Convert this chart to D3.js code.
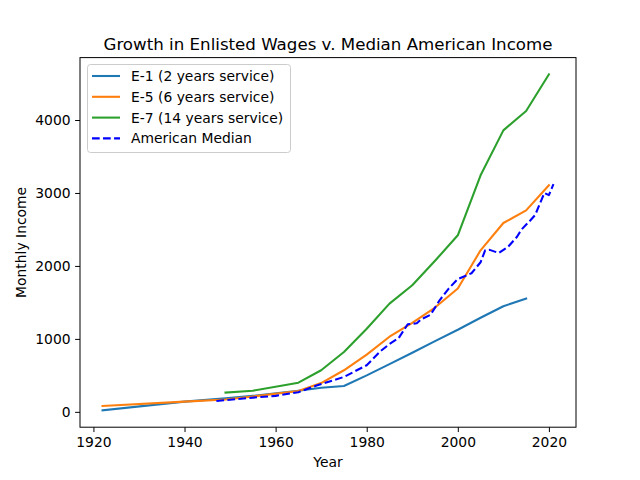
<!DOCTYPE html>
<html><head><meta charset="utf-8">
<script src="https://cdn.jsdelivr.net/npm/d3@7"></script>
<style>body{margin:0;background:#fff;} svg{display:block;font-family:"DejaVu Sans",sans-serif;}</style>
</head><body><div id="chart"></div>
<script>
const e1Years = [1922, 1940, 1949, 1955, 1965, 1970, 1975, 1980, 1985, 1990, 1995, 2000, 2005, 2010, 2015];
const e1Values = [20, 140, 185, 220, 290, 330, 355, 500, 655, 810, 970, 1125, 1290, 1447, 1553];
const e5Years = [1922, 1940, 1949, 1955, 1965, 1970, 1975, 1980, 1985, 1990, 1995, 2000, 2005, 2010, 2015, 2020];
const e5Values = [80, 140, 170, 210, 285, 395, 570, 785, 1030, 1220, 1430, 1690, 2214, 2588, 2762, 3105];
const e7Years = [1949, 1955, 1965, 1970, 1975, 1980, 1985, 1990, 1995, 2000, 2005, 2010, 2015, 2020];
const e7Values = [265, 290, 400, 570, 821, 1140, 1484, 1735, 2070, 2420, 3242, 3858, 4123, 4625];
const medYears = [1947, 1950, 1954, 1960, 1965, 1969, 1975, 1980, 1983, 1985, 1987, 1989, 1991, 1992, 1994, 1996, 1998, 2000, 2003, 2005, 2006, 2007, 2009, 2011, 2013, 2014, 2016, 2017, 2019, 2020, 2021];
const medValues = [150, 165, 190, 219, 270, 360, 479, 639, 830, 930, 1010, 1200, 1215, 1269, 1330, 1529, 1690, 1820, 1900, 2050, 2214, 2220, 2177, 2260, 2400, 2500, 2630, 2700, 3000, 2970, 3120];
const xTicks = [1920, 1940, 1960, 1980, 2000, 2020];
const yTicks = [0, 1000, 2000, 3000, 4000];
const seriesNames = ["E-1 (2 years service)", "E-5 (6 years service)", "E-7 (14 years service)", "American Median"];
const seriesColors = ["#1f77b4", "#ff7f0e", "#2ca02c", "#0000ff"];

const W = 640, H = 480;
const L = 80, R = 576, T = 57.6, B = 427.2;
const FS = "13.89px";
const svg = d3.select("#chart").append("svg").attr("width", W).attr("height", H);

const series = [
  {name: seriesNames[0], color: seriesColors[0], dash: null, pts: e1Years.map((y,i)=>[y,e1Values[i]])},
  {name: seriesNames[1], color: seriesColors[1], dash: null, pts: e5Years.map((y,i)=>[y,e5Values[i]])},
  {name: seriesNames[2], color: seriesColors[2], dash: null, pts: e7Years.map((y,i)=>[y,e7Values[i]])},
  {name: seriesNames[3], color: seriesColors[3], dash: "7.7,3.33", pts: medYears.map((y,i)=>[y,medValues[i]])}
];
const allX = series.flatMap(s=>s.pts.map(p=>p[0]));
const allY = series.flatMap(s=>s.pts.map(p=>p[1]));
const xmin = d3.min(allX), xmax = d3.max(allX), ymin = d3.min(allY), ymax = d3.max(allY);
const xpad = (xmax-xmin)*0.05, ypad = (ymax-ymin)*0.05;
const x = d3.scaleLinear().domain([xmin-xpad, xmax+xpad]).range([L, R]);
const y = d3.scaleLinear().domain([ymin-ypad, ymax+ypad]).range([B, T]);

const line = d3.line().x(d=>x(d[0])).y(d=>y(d[1]));
const g = svg.append("g");
series.forEach(s=>{
  g.append("path").datum(s.pts).attr("d", line).attr("fill","none")
   .attr("stroke", s.color).attr("stroke-width", 2.08)
   .attr("stroke-dasharray", s.dash).attr("stroke-linejoin","round").attr("stroke-linecap", s.dash? "butt":"square");
});

svg.append("rect").attr("x",L).attr("y",T).attr("width",R-L).attr("height",B-T)
  .attr("fill","none").attr("stroke","#000").attr("stroke-width",1);

const xAxis = svg.append("g").attr("transform",`translate(0,${B})`)
  .call(d3.axisBottom(x).tickValues(xTicks).tickFormat(d3.format("d")).tickSize(4.86).tickPadding(4.6));
const yAxis = svg.append("g").attr("transform",`translate(${L},0)`)
  .call(d3.axisLeft(y).tickValues(yTicks).tickFormat(d3.format("d")).tickSize(4.86).tickPadding(4.6));
[xAxis,yAxis].forEach(a=>{
  a.select(".domain").remove();
  a.selectAll("text").attr("font-size",FS).attr("font-family","DejaVu Sans").attr("fill","#000");
  a.selectAll("line").attr("stroke","#000").attr("stroke-width",1);
});

svg.append("text").attr("x",(L+R)/2).attr("y",49.5).attr("text-anchor","middle")
  .attr("font-size","16.67px").text("Growth in Enlisted Wages v. Median American Income");
svg.append("text").attr("x",(L+R)/2).attr("y",467).attr("text-anchor","middle")
  .attr("font-size",FS).text("Year");
svg.append("text").attr("transform",`translate(26,${(T+B)/2}) rotate(-90)`).attr("text-anchor","middle")
  .attr("font-size",FS).text("Monthly Income");

const lg = svg.append("g");
lg.append("rect").attr("x",87.5).attr("y",64.5).attr("width",203).attr("height",88).attr("rx",3)
  .attr("fill","#fff").attr("fill-opacity",0.8).attr("stroke","#ccc").attr("stroke-width",1);
series.forEach((s,i)=>{
  const yy = 76 + i*20.8;
  lg.append("line").attr("x1",92).attr("x2",120).attr("y1",yy).attr("y2",yy)
    .attr("stroke",s.color).attr("stroke-width",2.08).attr("stroke-dasharray", s.dash);
  lg.append("text").attr("x",131).attr("y",yy+5).attr("font-size",FS).text(s.name);
});
</script></body></html>
